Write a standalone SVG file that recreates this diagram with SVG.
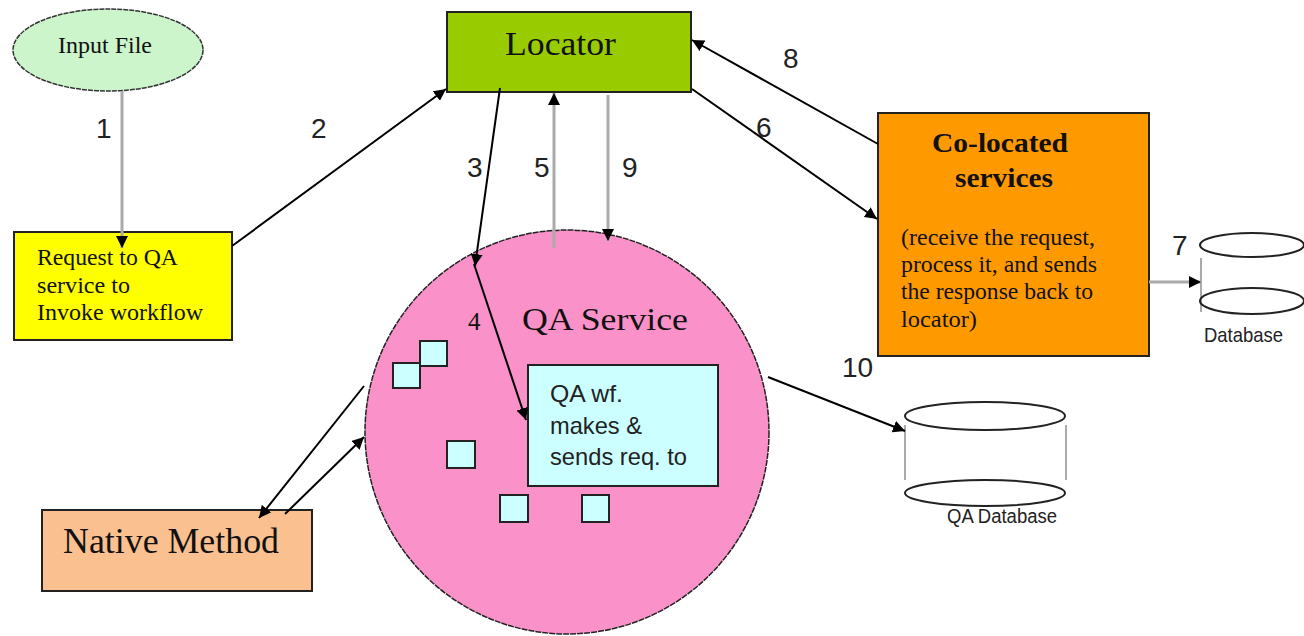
<svg xmlns="http://www.w3.org/2000/svg" width="1304" height="636" viewBox="0 0 1304 636">
<defs>
<marker id="ahb" viewBox="0 0 10 10" refX="10" refY="5" markerWidth="12" markerHeight="12" markerUnits="userSpaceOnUse" orient="auto"><path d="M0,0 L10,5 L0,10 z" fill="#000"/></marker>
<style>
.serif{font-family:"Liberation Serif","Times New Roman",serif;fill:#111}
.sans{font-family:"Liberation Sans",Arial,sans-serif;fill:#222}
.num{font-family:"Liberation Sans",Arial,sans-serif;font-size:28px;fill:#222}
.blk{stroke:#000;stroke-width:2;fill:none}
.gry{stroke:#aaa;stroke-width:3;fill:none}
.node{stroke:#222;stroke-width:2}
.sq{fill:#ccffff;stroke:#222;stroke-width:2}
.db{fill:none;stroke:#222;stroke-width:2}
.dbs{stroke:#aaa;stroke-width:2}
</style>
</defs>
<rect width="1304" height="636" fill="#fff"/>

<g id="input-file">
<ellipse cx="108" cy="50" rx="95" ry="41" fill="#ccf5cc" stroke="#333" stroke-width="1.5" stroke-dasharray="5,1"/>
<text class="serif" x="58" y="53" font-size="23" textLength="94" lengthAdjust="spacingAndGlyphs">Input File</text>
</g>

<g id="request">
<rect class="node" x="14" y="232" width="218" height="108" fill="#ffff00"/>
<text class="serif" x="37" y="265" font-size="23" textLength="141" lengthAdjust="spacingAndGlyphs">Request to QA</text>
<text class="serif" x="37" y="293" font-size="23" textLength="93" lengthAdjust="spacingAndGlyphs">service to</text>
<text class="serif" x="37" y="320" font-size="23" textLength="166" lengthAdjust="spacingAndGlyphs">Invoke workflow</text>
</g>

<g id="locator">
<rect class="node" x="447" y="12" width="244" height="80" fill="#99cc00"/>
<text class="serif" x="505" y="55" font-size="34" textLength="111" lengthAdjust="spacingAndGlyphs">Locator</text>
</g>

<g id="colocated">
<rect class="node" x="878" y="113" width="271" height="243" fill="#ff9900"/>
<text class="serif" x="932" y="152" font-size="27" font-weight="bold" textLength="136" lengthAdjust="spacingAndGlyphs">Co-located</text>
<text class="serif" x="955" y="187" font-size="27" font-weight="bold" textLength="98" lengthAdjust="spacingAndGlyphs">services</text>
<text class="serif" x="901" y="245" font-size="23" textLength="194" lengthAdjust="spacingAndGlyphs">(receive the request,</text>
<text class="serif" x="901" y="272" font-size="23" textLength="196" lengthAdjust="spacingAndGlyphs">process it, and sends</text>
<text class="serif" x="901" y="299" font-size="23" textLength="192" lengthAdjust="spacingAndGlyphs">the response back to</text>
<text class="serif" x="901" y="327" font-size="23" textLength="76" lengthAdjust="spacingAndGlyphs">locator)</text>
</g>

<g id="database">
<line class="dbs" x1="1201" y1="258" x2="1201" y2="312"/>
<ellipse class="db" cx="1252" cy="245" rx="52" ry="12" fill="#fff"/>
<ellipse class="db" cx="1252" cy="301" rx="52" ry="13"/>
<text class="sans" x="1204" y="342" font-size="21" textLength="79" lengthAdjust="spacingAndGlyphs">Database</text>
</g>

<g id="qa-service">
<circle cx="567" cy="432" r="202" fill="#fa91c8" stroke="#222" stroke-width="1.5" stroke-dasharray="6,1"/>
<text class="serif" x="522" y="330" font-size="32" textLength="166" lengthAdjust="spacingAndGlyphs">QA Service</text>
<rect class="sq" x="420" y="341" width="27" height="25"/>
<rect class="sq" x="393" y="363" width="27" height="25"/>
<rect class="sq" x="447" y="441" width="28" height="27"/>
<rect class="sq" x="500" y="495" width="28" height="27"/>
<rect class="sq" x="582" y="495" width="27" height="27"/>
</g>

<g id="qa-wf">
<rect x="528" y="365" width="190" height="121" fill="#ccffff" stroke="#222" stroke-width="2"/>
<text class="sans" x="550" y="402" font-size="24" textLength="73" lengthAdjust="spacingAndGlyphs">QA wf.</text>
<text class="sans" x="550" y="434" font-size="24" textLength="92" lengthAdjust="spacingAndGlyphs">makes &amp;</text>
<text class="sans" x="550" y="465" font-size="24" textLength="137" lengthAdjust="spacingAndGlyphs">sends req. to</text>
</g>

<g id="native-method">
<rect class="node" x="42" y="510" width="270" height="81" fill="#fac090"/>
<text class="serif" x="63" y="553" font-size="35" textLength="216" lengthAdjust="spacingAndGlyphs">Native Method</text>
</g>

<g id="qa-database">
<line class="dbs" x1="905" y1="425" x2="905" y2="480"/>
<line class="dbs" x1="1066" y1="425" x2="1066" y2="480"/>
<ellipse class="db" cx="985" cy="416" rx="80" ry="14" fill="#fff"/>
<ellipse class="db" cx="985" cy="493" rx="80" ry="13"/>
<text class="sans" x="947" y="523" font-size="20" textLength="110" lengthAdjust="spacingAndGlyphs">QA Database</text>
</g>

<g id="connectors">
<line class="gry" x1="122" y1="91" x2="122" y2="248" marker-end="url(#ahb)"/>
<line class="blk" x1="232" y1="246" x2="446" y2="89" marker-end="url(#ahb)"/>
<line class="blk" x1="500" y1="88" x2="475" y2="266" marker-end="url(#ahb)"/>
<line class="blk" x1="474" y1="264" x2="526" y2="420" marker-end="url(#ahb)"/>
<line class="gry" x1="554" y1="248" x2="554" y2="93" marker-end="url(#ahb)"/>
<line class="gry" x1="608" y1="95" x2="608" y2="241" marker-end="url(#ahb)"/>
<line class="blk" x1="692" y1="89" x2="877" y2="219" marker-end="url(#ahb)"/>
<line class="blk" x1="878" y1="144" x2="692" y2="40" marker-end="url(#ahb)"/>
<line class="gry" x1="1149" y1="282" x2="1201" y2="282" stroke="#777" marker-end="url(#ahb)"/>
<line class="blk" x1="364" y1="386" x2="259" y2="518" marker-end="url(#ahb)"/>
<line class="blk" x1="285" y1="514" x2="364" y2="437" marker-end="url(#ahb)"/>
<line class="blk" x1="768" y1="377" x2="905" y2="431" marker-end="url(#ahb)"/>
<text class="num" x="96" y="138">1</text>
<text class="num" x="311" y="138">2</text>
<text class="num" x="467" y="177">3</text>
<text class="num" x="534" y="177">5</text>
<text class="num" x="622" y="177">9</text>
<text class="num" x="756" y="137">6</text>
<text class="num" x="783" y="68">8</text>
<text class="num" x="1172" y="255">7</text>
<text class="serif" x="468" y="330" font-size="25">4</text>
<text class="num" x="842" y="377">10</text>
</g>
</svg>
